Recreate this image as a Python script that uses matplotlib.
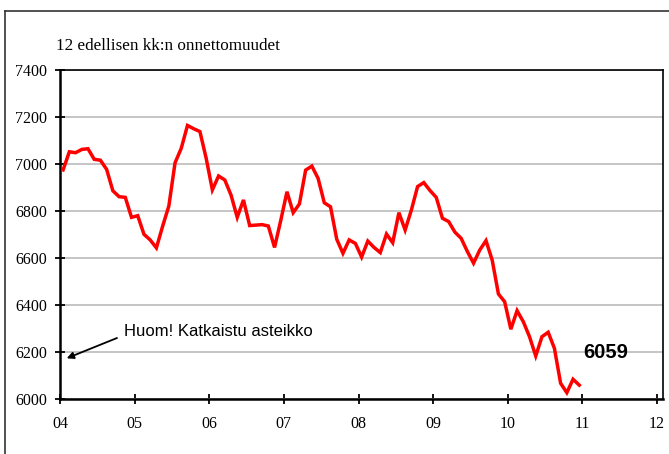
import matplotlib
matplotlib.use("Agg")
import matplotlib.pyplot as plt
from matplotlib.lines import Line2D
import numpy as np

# Monthly values, Jan 2004 .. Dec 2010
values = [6975, 7052, 7048, 7062, 7065, 7020, 7016, 6977, 6886, 6861, 6858, 6773,
          6780, 6701, 6677, 6643, 6735, 6821, 7005, 7067, 7164, 7150, 7138, 7025,
          6890, 6949, 6932, 6868, 6773, 6847, 6738, 6740, 6742, 6736, 6645, 6760,
          6882, 6793, 6830, 6974, 6991, 6939, 6835, 6818, 6680, 6620, 6677, 6662,
          6604, 6672, 6645, 6623, 6702, 6665, 6793, 6719, 6804, 6904, 6921, 6887,
          6858, 6769, 6755, 6710, 6684, 6628, 6578, 6634, 6674, 6591, 6447, 6414,
          6297, 6376, 6329, 6265, 6183, 6265, 6284, 6216, 6067, 6027, 6084, 6059]
start_year = 2004
year_ticks = list(range(2004, 2013))
year_labels = ["04", "05", "06", "07", "08", "09", "10", "11", "12"]
y_ticks = [6000, 6200, 6400, 6600, 6800, 7000, 7200, 7400]
title = "12 edellisen kk:n onnettomuudet"
note = "Huom! Katkaistu asteikko"
last_label = "6059"

months = np.arange(len(values))
xs = start_year + (months + 0.5) / 12.0

W, H = 669, 454
fig = plt.figure(figsize=(W / 100, H / 100), dpi=100)
fig.patch.set_facecolor("white")

left, right, top, bottom = 60, 663, 70, 399
ax = fig.add_axes([left / W, 1 - bottom / H, (right - left) / W, (bottom - top) / H])

ax.plot(xs, values, color="#ff0000", lw=2.5, solid_joinstyle="miter", zorder=3)

px_per_year = (657 - 60) / 8
px_per_unit = (bottom - top) / 1400
x_right = 2012 + (right - 657) / px_per_year
ax.set_xlim(2004, x_right)
ax.set_ylim(6000, 7400)
ax.set_xticks(year_ticks)
ax.set_xticklabels(year_labels)
ax.set_yticks(y_ticks)
ax.set_yticklabels([str(v) for v in y_ticks])

ax.grid(axis="y", color="#c0c0c0", lw=1.3, zorder=1)
ax.set_axisbelow(True)
for s in ["top", "right"]:
    ax.spines[s].set_linewidth(1.2)
    ax.spines[s].set_color("black")
for s in ["left", "bottom"]:
    ax.spines[s].set_linewidth(1.8)
    ax.spines[s].set_color("black")

serif = ["Liberation Serif", "DejaVu Serif"]
sans = ["Liberation Sans", "DejaVu Sans"]
ax.tick_params(axis="both", direction="inout", length=7, width=1.3, color="black")
ax.tick_params(axis="x", pad=9)
ax.tick_params(axis="y", pad=6)
for lbl in ax.get_xticklabels() + ax.get_yticklabels():
    lbl.set_fontfamily(serif)
    lbl.set_fontsize(11.5)

fig.text(56 / W, 1 - 46 / H, title, family=serif, fontsize=12.3, va="center", ha="left")


def to_data(px, py):
    return (2004 + (px - left) / px_per_year, 6000 + (bottom - py) / px_per_unit)


ax.annotate("", xy=to_data(66.7, 358.3), xytext=to_data(117, 338),
            arrowprops=dict(arrowstyle="-|>", color="black", lw=1.3,
                            mutation_scale=10, shrinkA=0, shrinkB=0))
ax.text(*to_data(124, 332), note, family=sans, fontsize=12, va="center", ha="left")

ax.text(*to_data(583, 352), last_label, family=sans, fontsize=14.5,
        fontweight="bold", va="center", ha="left")

# outer frame (partially cut off at right and bottom)
fig.add_artist(Line2D([5 / W, 5 / W], [0, 1 - 11 / H], color="#333333", lw=1.2,
                      transform=fig.transFigure))
fig.add_artist(Line2D([5 / W, 1], [1 - 11 / H, 1 - 11 / H], color="#333333", lw=1.2,
                      transform=fig.transFigure))

fig.savefig("out.png", dpi=100, facecolor="white")
